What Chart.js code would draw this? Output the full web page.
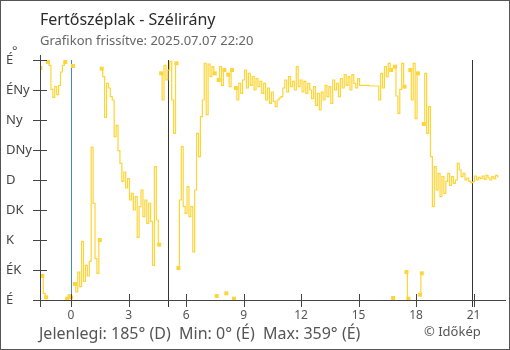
<!DOCTYPE html>
<html lang="hu">
<head>
<meta charset="utf-8">
<title>Fertőszéplak - Szélirány</title>
<script src="https://cdn.jsdelivr.net/npm/chart.js@4.4.1/dist/chart.umd.min.js"></script>
<style>
  html, body { margin: 0; padding: 0; background: #fff; }
  #wrap { position: relative; width: 510px; height: 350px; overflow: hidden; font-family: "Noto Sans", sans-serif; }
  #wrap canvas { position: absolute; left: 0; top: 0; }
  .txt { position: absolute; white-space: pre; line-height: 1; }
  #title { left: 40px; top: 11px; font-size: 16px; color: #2b2b2b; }
  #sub { left: 40px; top: 33.5px; font-size: 13px; color: #666; }
  #deg { left: 12px; top: 44px; font-size: 13px; color: #555; }
  #stats { left: 39px; top: 325px; font-size: 16px; color: #555; }
  #copy { left: 424px; top: 324.5px; font-size: 13px; color: #555; }
  #frame { position: absolute; left: 0; top: 0; width: 510px; height: 350px; border: 1px solid #555; box-sizing: border-box; pointer-events: none; }
</style>
</head>
<body>
<div id="wrap">
  <canvas id="chartWind" width="510" height="350"></canvas>
  <div class="txt" id="title">Fertőszéplak - Szélirány</div>
  <div class="txt" id="sub">Grafikon frissítve: 2025.07.07 22:20</div>
  <div class="txt" id="deg">°</div>
  <div class="txt" id="stats">Jelenlegi: 185° (D)  Min: 0° (É)  Max: 359° (É)</div>
  <div class="txt" id="copy">© Időkép</div>
  <div id="frame"></div>
</div>
<script>
// irány címkék 0..360 fok, 45 fokonként
const yLabels = ["É", "ÉK", "K", "DK", "D", "DNy", "Ny", "ÉNy", "É"];
const xTicks = [0, 3, 6, 9, 12, 15, 18, 21];

// mérések 6 percenként, 22:24-től (előző nap) 22:18-ig, fokban
const dirEvening = [348, 36, 10, 4, 357, 352, 316, 304, 320, 308, 322, 342, 352, 357, 2, 8];
const dirNight = [
  4, 351, 24, 12, 42, 20, 88, 28, 52, 36,
  58, 229, 145, 62, 40, 90, 347, 335, 274, 325,
  318, 305, 300, 245, 262, 224, 205, 178, 192, 168,
  182, 150, 160, 135, 155, 94, 140, 165, 125, 150,
  115, 145, 118, 52, 200, 120, 83, 340, 300, 352,
  330, 345, 358, 300, 250, 355, 48, 150, 230, 140
];
const dirMorning = [
  130, 170, 125, 140, 72, 165, 250, 215, 275, 300,
  355, 278, 354, 335, 350, 340, 6, 330, 350, 322,
  345, 10, 338, 320, 345, 2, 318, 300, 325, 310,
  330, 345, 318, 340, 322, 335, 315, 332, 320, 328,
  310, 325, 300, 318, 295, 312, 298, 290, 300, 303,
  305, 318, 330, 312, 335, 320, 328, 315, 350, 320
];
const dirAfternoon = [
  330, 312, 328, 310, 325, 315, 302, 320, 292, 310,
  285, 312, 300, 322, 305, 320, 295, 330, 315, 325,
  305, 332, 318, 338, 322, 335, 315, 338, 325, 318,
  332, 322, 322, 322, 322, 322, 321, 321, 321, 321,
  321, 300, 340, 318, 350, 335, 355, 345, 3, 350,
  306, 280, 316, 355, 320, 42, 2, 345, 300, 355
];
const dirLate = [
  272, 340, 8, 40, 264, 340, 250, 290, 215, 140,
  200, 165, 190, 155, 185, 160, 178, 190, 172, 185,
  175, 180, 205, 195, 185, 190, 180, 183, 178, 176,
  177, 186, 180, 184, 182, 186, 181, 187, 183, 180,
  185, 182, 187, 185
];

const startHour = -1.6;
const stepHour = 0.1;
const sunrise = 5.06;
const sunset = 20.93;

const LINE = "#fdd536";
const AXIS = "#444";

const dirValues = [...dirEvening, ...dirNight, ...dirMorning, ...dirAfternoon, ...dirLate];
const points = dirValues.map((v, i) => ({
  x: Math.round((startHour + i * stepHour) * 10) / 10,
  y: v
}));

function jump(a, b) {
  return a !== undefined && b !== undefined && Math.abs(a - b) > 180;
}

function nearGap(i) {
  return jump(dirValues[i - 1], dirValues[i]) || jump(dirValues[i], dirValues[i + 1]);
}

const axisLines = {
  id: "axisLines",
  beforeDatasetsDraw(chart) {
    const {ctx, scales} = chart;
    const x = scales.x;
    ctx.save();
    ctx.lineWidth = 1;
    const vline = (h, color) => {
      const px = Math.round(x.getPixelForValue(h)) + 0.5;
      ctx.strokeStyle = color;
      ctx.beginPath();
      ctx.moveTo(px, 60);
      ctx.lineTo(px, 307);
      ctx.stroke();
    };
    vline(0, "#3d8cc9");
    vline(sunrise, "#333");
    vline(sunset, "#333");
    ctx.restore();
  },
  afterDraw(chart) {
    const {ctx, chartArea, scales} = chart;
    const left = Math.round(chartArea.left) + 0.5;
    const bottom = Math.round(chartArea.bottom) + 0.5;
    ctx.save();
    ctx.strokeStyle = AXIS;
    ctx.lineWidth = 1;
    ctx.beginPath();
    ctx.moveTo(left, 55);
    ctx.lineTo(left, 307);
    ctx.moveTo(34, bottom);
    ctx.lineTo(506, bottom);
    yLabels.forEach((l, i) => {
      const py = Math.round(scales.y.getPixelForValue(i * 45)) + 0.5;
      ctx.moveTo(33, py);
      ctx.lineTo(47, py);
    });
    xTicks.forEach(h => {
      const px = Math.round(scales.x.getPixelForValue(h)) + 0.5;
      ctx.moveTo(px, 294);
      ctx.lineTo(px, 307);
    });
    ctx.stroke();
    ctx.restore();
  }
};

Chart.defaults.font.family = '"Noto Sans", sans-serif';

new Chart(document.getElementById("chartWind"), {
  type: "line",
  data: {
    datasets: [{
      data: points,
      borderColor: LINE,
      borderWidth: 1.2,
      stepped: "middle",
      pointStyle: "rect",
      pointRadius: c => nearGap(c.dataIndex) ? 2.8 : 0,
      pointHoverRadius: 0,
      pointBackgroundColor: LINE,
      pointBorderWidth: 0,
      segment: {
        borderColor: c => jump(c.p0.parsed.y, c.p1.parsed.y) ? "rgba(0,0,0,0)" : LINE
      }
    }]
  },
  options: {
    responsive: false,
    animation: false,
    layout: {
      padding: {top: 60, left: 6, right: 9, bottom: 0}
    },
    plugins: {
      legend: {display: false},
      tooltip: {enabled: false}
    },
    scales: {
      x: {
        type: "linear",
        min: -1.62,
        max: 22.43,
        afterBuildTicks: s => { s.ticks = xTicks.map(v => ({value: v})); },
        afterFit: s => { s.height = 50; },
        grid: {display: false, drawTicks: false},
        border: {display: false},
        ticks: {
          color: "#555",
          font: {size: 12},
          padding: 8,
          maxRotation: 0,
          autoSkip: false,
          callback: v => String(v)
        }
      },
      y: {
        min: 0,
        max: 360,
        afterFit: s => { s.width = 34; },
        grid: {display: false, drawTicks: false},
        border: {display: false},
        ticks: {
          stepSize: 45,
          color: "#444",
          font: {size: 13},
          crossAlign: "far",
          padding: 0,
          callback: v => yLabels[v / 45]
        }
      }
    }
  },
  plugins: [axisLines]
});
</script>
</body>
</html>
